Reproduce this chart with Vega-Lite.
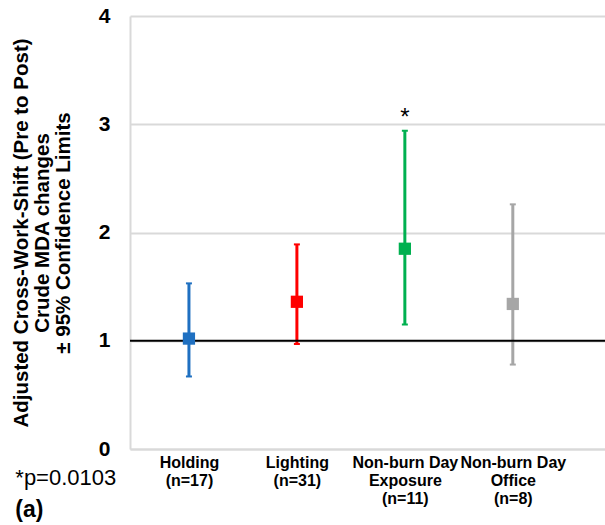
{
  "$schema": "https://vega.github.io/schema/vega-lite/v6.json",
  "width": 475,
  "height": 433,
  "autosize": "none",
  "padding": {"left": 130, "top": 16, "right": 0, "bottom": 76},
  "background": "white",
  "config": {
    "view": {"stroke": null},
    "font": "Liberation Sans"
  },
  "title": {
    "text": "*p=0.0103",
    "subtitle": "(a)",
    "orient": "bottom",
    "anchor": "start",
    "frame": "bounds",
    "offset": -38,
    "dx": 4,
    "font": "Liberation Sans",
    "fontSize": 22,
    "fontWeight": "normal",
    "color": "#000000",
    "subtitleFont": "Liberation Sans",
    "subtitleFontSize": 23,
    "subtitleFontWeight": "bold",
    "subtitleColor": "#000000",
    "subtitlePadding": 9
  },
  "data": {
    "values": [
      {"group": "Holding|(n=17)", "mean": 1.02, "lower": 0.67, "upper": 1.53},
      {"group": "Lighting|(n=31)", "mean": 1.36, "lower": 0.97, "upper": 1.89},
      {"group": "Non-burn Day|Exposure|(n=11)", "mean": 1.85, "lower": 1.15, "upper": 2.94},
      {"group": "Non-burn Day|Office|(n=8)", "mean": 1.34, "lower": 0.78, "upper": 2.26}
    ]
  },
  "encoding": {
    "x": {
      "field": "group",
      "type": "nominal",
      "sort": null,
      "scale": {"type": "point", "padding": 0.7, "align": 0.39},
      "axis": {
        "title": null,
        "labelExpr": "split(datum.label, '|')",
        "labelAngle": 0,
        "labelFont": "Liberation Sans",
        "labelFontSize": 16,
        "labelFontWeight": "bold",
        "labelColor": "#000000",
        "labelLineHeight": 18,
        "labelPadding": 5,
        "labelBaseline": "top",
        "ticks": false,
        "grid": false,
        "domain": true,
        "domainColor": "#d9d9d9",
        "domainWidth": 2
      }
    },
    "color": {
      "field": "group",
      "type": "nominal",
      "sort": null,
      "scale": {"range": ["#1F70C1", "#FF0000", "#00B050", "#A6A6A6"]},
      "legend": null
    }
  },
  "layer": [
    {
      "mark": {"type": "rule", "strokeWidth": 3},
      "encoding": {
        "y": {
          "field": "lower",
          "type": "quantitative",
          "scale": {"domain": [0, 4]},
          "axis": {
            "values": [0, 1, 2, 3, 4],
            "format": "d",
            "title": ["Adjusted Cross-Work-Shift (Pre to Post)", "Crude MDA changes", "± 95% Confidence Limits"],
            "titleFont": "Liberation Sans",
            "titleFontSize": 20.5,
            "titleFontWeight": "bold",
            "titleColor": "#000000",
            "titleLineHeight": 21,
            "titlePadding": 25,
            "labelFont": "Liberation Sans",
            "labelFontSize": 21,
            "labelFontWeight": "bold",
            "labelColor": "#000000",
            "labelPadding": 20,
            "ticks": false,
            "grid": true,
            "gridColor": "#d9d9d9",
            "gridWidth": 2,
            "domain": true,
            "domainColor": "#d9d9d9",
            "domainWidth": 2
          }
        },
        "y2": {"field": "upper"}
      }
    },
    {
      "mark": {"type": "tick", "orient": "horizontal", "size": 6, "thickness": 2, "opacity": 1},
      "encoding": {"y": {"field": "lower", "type": "quantitative"}}
    },
    {
      "mark": {"type": "tick", "orient": "horizontal", "size": 6, "thickness": 2, "opacity": 1},
      "encoding": {"y": {"field": "upper", "type": "quantitative"}}
    },
    {
      "data": {"values": [{"ref": 1}]},
      "mark": {"type": "rule", "color": "#000000", "strokeWidth": 2},
      "encoding": {"y": {"field": "ref", "type": "quantitative"}, "x": null, "color": null}
    },
    {
      "mark": {"type": "point", "shape": "square", "size": 150, "filled": true, "opacity": 1},
      "encoding": {"y": {"field": "mean", "type": "quantitative"}}
    },
    {
      "data": {"values": [{"group": "Non-burn Day|Exposure|(n=11)", "pos": 3.1, "label": "*"}]},
      "mark": {"type": "text", "fontSize": 24, "font": "Liberation Sans", "color": "#000000", "baseline": "middle", "dy": 5},
      "encoding": {
        "y": {"field": "pos", "type": "quantitative"},
        "text": {"field": "label"},
        "color": null
      }
    }
  ]
}
